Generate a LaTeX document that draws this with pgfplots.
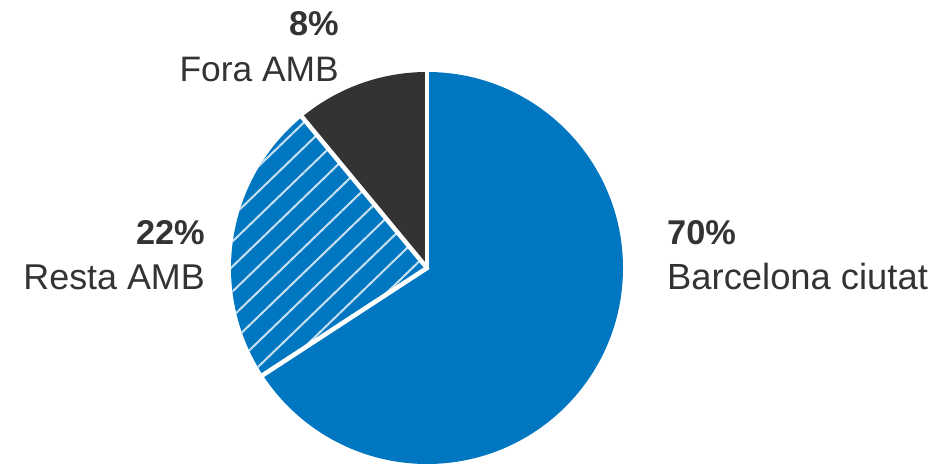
\documentclass[border=0pt]{standalone}
\usepackage{pgfplots}
\pgfplotsset{compat=1.18}
\usepackage{pgfplotstable}
\usepackage{fontspec}
\setmainfont{Liberation Sans}
\usetikzlibrary{patterns.meta}
\definecolor{bcnblue}{RGB}{0,119,192}
\definecolor{darkslice}{RGB}{51,51,51}
\definecolor{txt}{RGB}{51,51,51}

% shares as drawn in the pie (percent of the circle)
\pgfplotstableread{
share
65.8
23.2
11.0
}\piedata

\begin{document}
\begin{tikzpicture}
\pgfplotstablegetelem{0}{share}\of\piedata \pgfmathsetmacro\sA{\pgfplotsretval}
\pgfplotstablegetelem{1}{share}\of\piedata \pgfmathsetmacro\sB{\pgfplotsretval}
\pgfplotstablegetelem{2}{share}\of\piedata \pgfmathsetmacro\sC{\pgfplotsretval}
\pgfmathsetmacro\aA{90}
\pgfmathsetmacro\aB{90-3.6*\sA}
\pgfmathsetmacro\aC{\aB-3.6*\sB}
\pgfmathsetmacro\aD{\aC-3.6*\sC}
\begin{axis}[
  width=944bp, height=466bp, scale only axis,
  xmin=0, xmax=944, ymin=0, ymax=466,
  hide axis, clip=false,
]
\path (axis cs:0,0) rectangle (axis cs:944,466);
% Barcelona ciutat
\fill[bcnblue] (axis cs:427,198) -- ++(\aA:196bp) arc[start angle=\aA, end angle=\aB, radius=196bp] -- cycle;
% Resta AMB (hatched)
\fill[bcnblue] (axis cs:427,198) -- ++(\aB:196bp) arc[start angle=\aB, end angle=\aC, radius=196bp] -- cycle;
\fill[pattern={Lines[angle=44,distance=18bp,line width=2bp]}, pattern color=white!78!bcnblue]
  (axis cs:427,198) -- ++(\aB:196bp) arc[start angle=\aB, end angle=\aC, radius=196bp] -- cycle;
% Fora AMB
\fill[darkslice] (axis cs:427,198) -- ++(\aC:196bp) arc[start angle=\aC, end angle=\aD, radius=196bp] -- cycle;
% separators
\draw[white, line width=4.5bp, line cap=round] (axis cs:427,198) -- ++(\aA:197bp);
\draw[white, line width=4.5bp, line cap=round] (axis cs:427,198) -- ++(\aB:197bp);
\draw[white, line width=4.5bp, line cap=round] (axis cs:427,198) -- ++(\aC:197bp);
% labels
\node[anchor=base west, inner sep=0, text=txt, font=\fontsize{34.5}{40}\selectfont\bfseries] at (axis cs:667,221) {70\%};
\node[anchor=base west, inner sep=0, text=txt, font=\fontsize{36.5}{42}\selectfont] at (axis cs:667,176) {Barcelona ciutat};
\node[anchor=base east, inner sep=0, text=txt, font=\fontsize{34.5}{40}\selectfont\bfseries] at (axis cs:205,221) {22\%};
\node[anchor=base east, inner sep=0, text=txt, font=\fontsize{36}{42}\selectfont] at (axis cs:205,176) {Resta AMB};
\node[anchor=base east, inner sep=0, text=txt, font=\fontsize{34.5}{40}\selectfont\bfseries] at (axis cs:339,430) {8\%};
\node[anchor=base east, inner sep=0, text=txt, font=\fontsize{35.5}{42}\selectfont] at (axis cs:339,384) {Fora AMB};
\end{axis}
\end{tikzpicture}
\end{document}
